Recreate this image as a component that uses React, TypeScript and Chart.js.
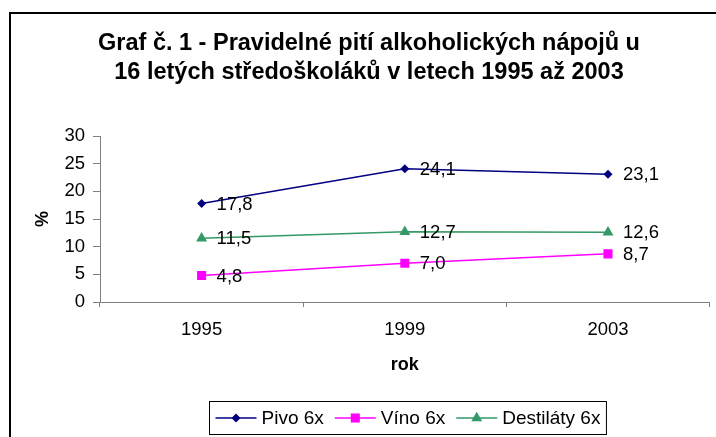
import React, { useEffect, useRef } from "react";
import { Chart, registerables } from "chart.js";

Chart.register(...registerables);

const FONT = '"Liberation Sans", Arial, sans-serif';

const titleLines = [
  "Graf č. 1 - Pravidelné pití alkoholických nápojů u",
  "16 letých středoškoláků v letech 1995 až 2003",
];
const years = ["1995", "1999", "2003"];
const pivo = [17.8, 24.1, 23.1];
const vino = [4.8, 7.0, 8.7];
const destilaty = [11.5, 12.7, 12.6];
const seriesNames = ["Pivo 6x", "Víno 6x", "Destiláty 6x"];
const seriesColors = ["#000080", "#FF00FF", "#339966"];
const seriesShapes = ["rectRot", "rect", "triangle"];
const seriesRadius = [4.5, 6.4, 6.3];
const yTicks = [0, 5, 10, 15, 20, 25, 30];
const xTitle = "rok";
const yTitle = "%";

function drawMarker(ctx: CanvasRenderingContext2D, shape: string, x: number, y: number, r: number) {
  ctx.beginPath();
  if (shape === "rectRot") {
    ctx.moveTo(x - r, y);
    ctx.lineTo(x, y - r);
    ctx.lineTo(x + r, y);
    ctx.lineTo(x, y + r);
  } else if (shape === "rect") {
    const s = Math.SQRT1_2 * r;
    ctx.rect(x - s, y - s, 2 * s, 2 * s);
  } else {
    const w = r * Math.sin(Math.PI / 3);
    ctx.moveTo(x, y - r);
    ctx.lineTo(x + w, y + r / 2);
    ctx.lineTo(x - w, y + r / 2);
  }
  ctx.closePath();
  ctx.fill();
}

const decorPlugin = {
  id: "decor",
  beforeDraw(chart: any) {
    const ctx = chart.ctx as CanvasRenderingContext2D;
    ctx.save();
    ctx.fillStyle = "#ffffff";
    ctx.fillRect(0, 0, chart.width, chart.height);
    // outer frame (top and left visible)
    ctx.fillStyle = "#000000";
    ctx.fillRect(9, 12, chart.width - 9, 2);
    ctx.fillRect(9, 12, 2, chart.height - 12);
    ctx.restore();
  },
  afterDraw(chart: any) {
    const ctx = chart.ctx as CanvasRenderingContext2D;
    ctx.save();
    // title
    ctx.fillStyle = "#000000";
    ctx.font = `bold 23.5px ${FONT}`;
    ctx.textAlign = "center";
    ctx.textBaseline = "alphabetic";
    ctx.fillText(titleLines[0], 369, 50);
    ctx.fillText(titleLines[1], 369, 79);

    // data labels
    ctx.font = `18.5px ${FONT}`;
    ctx.textAlign = "left";
    ctx.textBaseline = "middle";
    chart.data.datasets.forEach((ds: any, i: number) => {
      const meta = chart.getDatasetMeta(i);
      meta.data.forEach((pt: any, j: number) => {
        const v = ds.data[j] as number;
        ctx.fillText(v.toFixed(1).replace(".", ","), pt.x + 15, pt.y + 1);
      });
    });

    // legend
    ctx.font = `19px ${FONT}`;
    const lineLen = 41;
    const gapText = 5;
    const gapItem = 11;
    const widths = seriesNames.map((n) => ctx.measureText(n).width);
    let total = 0;
    widths.forEach((w, i) => {
      total += lineLen + gapText + w + (i < widths.length - 1 ? gapItem : 0);
    });
    const padX = 6;
    const boxW = total + padX * 2;
    const cx = 407;
    const boxX = Math.round(cx - boxW / 2) + 0.5;
    const boxY = 401.5;
    const boxH = 33;
    ctx.strokeStyle = "#000000";
    ctx.lineWidth = 1;
    ctx.strokeRect(boxX, boxY, boxW, boxH);
    let x = boxX + padX;
    const ly = boxY + boxH / 2;
    seriesNames.forEach((name, i) => {
      ctx.strokeStyle = seriesColors[i];
      ctx.lineWidth = 1.5;
      ctx.beginPath();
      ctx.moveTo(x, ly);
      ctx.lineTo(x + lineLen, ly);
      ctx.stroke();
      ctx.fillStyle = seriesColors[i];
      drawMarker(ctx, seriesShapes[i], x + lineLen / 2, ly, seriesRadius[i]);
      ctx.fillStyle = "#000000";
      ctx.textBaseline = "middle";
      ctx.fillText(name, x + lineLen + gapText, ly + 1);
      x += lineLen + gapText + widths[i] + gapItem;
    });
    ctx.restore();
  },
};

export default function App() {
  const ref = useRef<HTMLCanvasElement | null>(null);

  useEffect(() => {
    if (!ref.current) return;
    const seriesData = [pivo, vino, destilaty];
    const chart = new Chart(ref.current, {
      type: "line",
      data: {
        labels: years,
        datasets: seriesNames.map((name, i) => ({
          label: name,
          data: seriesData[i],
          borderColor: seriesColors[i],
          backgroundColor: seriesColors[i],
          borderWidth: 1.5,
          pointStyle: seriesShapes[i] as any,
          pointRadius: seriesRadius[i],
          pointBorderWidth: 0,
          pointBackgroundColor: seriesColors[i],
          tension: 0,
          fill: false,
        })),
      },
      options: {
        animation: false,
        responsive: true,
        maintainAspectRatio: false,
        layout: { padding: { top: 136, right: 1, bottom: 55, left: 0 } },
        plugins: {
          legend: { display: false },
          title: { display: false },
          tooltip: { enabled: false },
        },
        scales: {
          x: {
            type: "category",
            offset: true,
            grid: {
              offset: true,
              drawOnChartArea: false,
              drawTicks: true,
              tickLength: 5,
              color: "#808080",
            },
            border: { display: true, color: "#808080", width: 1 },
            ticks: {
              color: "#000000",
              font: { family: FONT, size: 18.5 },
              padding: 12,
              maxRotation: 0,
            },
            title: {
              display: true,
              text: xTitle,
              color: "#000000",
              font: { family: FONT, size: 18, weight: "bold" },
              padding: { top: 0, bottom: 6 },
            },
            afterFit(scale: any) {
              scale.height = 80;
            },
          },
          y: {
            min: 0,
            max: 30,
            afterBuildTicks(scale: any) {
              scale.ticks = yTicks.map((v) => ({ value: v }));
            },
            grid: {
              drawOnChartArea: false,
              drawTicks: true,
              tickLength: 7,
              color: "#808080",
            },
            border: { display: true, color: "#808080", width: 1 },
            ticks: {
              color: "#000000",
              font: { family: FONT, size: 18.5 },
              padding: 8,
            },
            title: {
              display: true,
              text: yTitle,
              color: "#000000",
              font: { family: FONT, size: 18, weight: "bold" },
              padding: { top: 32, bottom: 0 },
            },
            afterFit(scale: any) {
              scale.width = 100;
            },
          },
        },
      },
      plugins: [decorPlugin],
    });
    return () => chart.destroy();
  }, []);

  return (
    <div
      style={{
        position: "absolute",
        left: 0,
        top: 0,
        width: 716,
        height: 437,
        background: "#ffffff",
      }}
    >
      <canvas ref={ref} />
    </div>
  );
}
